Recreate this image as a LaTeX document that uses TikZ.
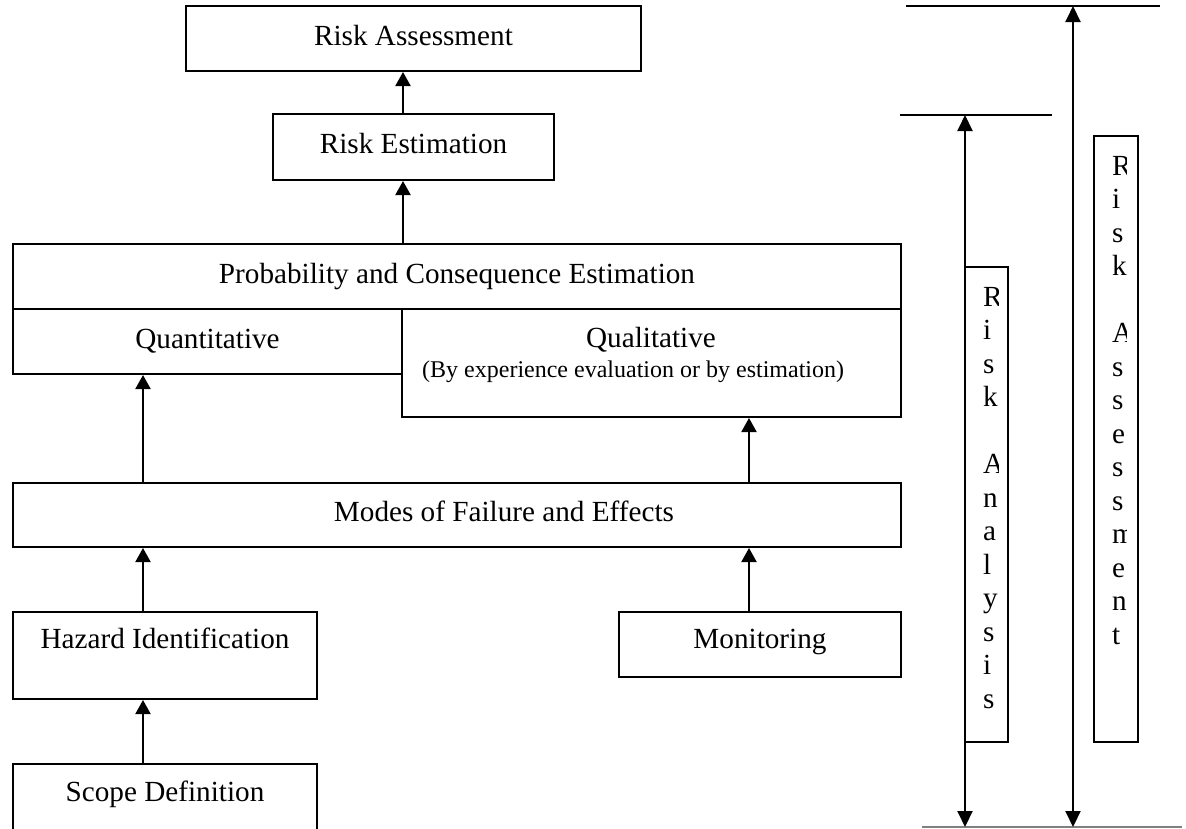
\documentclass[tikz,border=0pt]{standalone}
\usepackage{fontspec}
\setmainfont{Liberation Serif}
\usetikzlibrary{arrows.meta}

\tikzset{
  box/.style={draw, line width=2pt, inner sep=0pt, text height=20pt, text depth=7pt},
  arr/.style={-{Triangle[length=14pt,width=15pt]}, line width=2pt},
  dblarr/.style={{Triangle[length=16pt,width=15pt]}-{Triangle[length=16pt,width=15pt]}, line width=2pt},
  rule/.style={line width=2pt},
  vbox/.style={draw, fill=white, line width=2pt, inner sep=0pt},
  vtext/.style={anchor=north west, inner sep=0pt, align=left}
}

\begin{document}
\begin{tikzpicture}[x=1pt, y=-1pt, font=\fontsize{29.2}{33.5}\selectfont]
  \useasboundingbox (0,0) rectangle (1186,828);

  % Boxes.
  \node[box, minimum width=455, minimum height=65] (assess) at (413.5,38.5) {Risk Assessment};
  \node[box, minimum width=281, minimum height=66] (estim) at (413.5,147) {Risk Estimation};
  \node[box, minimum width=888, minimum height=65] (prob) at (457,276.5) {Probability and Consequence Estimation};
  \node[box, minimum width=389, minimum height=65] (quant) at (207.5,341.5) {Quantitative};
  \node[box, minimum width=499, minimum height=108] (qual) at (651.5,363) {};
  \node[anchor=base, inner sep=0pt] (qualtitle) at (651,347) {Qualitative};
  \node[anchor=base west, inner sep=0pt, font=\fontsize{24}{28}\selectfont] (qualnote) at (422,377)
    {(By experience evaluation or by estimation)};
  \node[box, minimum width=888, minimum height=64] (modes) at (457,515) {\hspace*{94pt}Modes of Failure and Effects};
  \node[box, minimum width=304, minimum height=87, text depth=35pt] (hazard) at (165,655.5) {Hazard Identification};
  \node[box, minimum width=282, minimum height=65, text depth=13pt] (monitor) at (760,644.5) {Monitoring};
  \node[box, minimum width=304, minimum height=68, text depth=14pt] (scope) at (165,798) {Scope Definition};

  % Arrows.
  \coordinate (colL) at (143,0);
  \coordinate (colM) at (403,0);
  \coordinate (colR) at (749,0);
  \draw[arr] (scope.north -| colL) -- (hazard.south -| colL);
  \draw[arr] (hazard.north -| colL) -- (modes.south -| colL);
  \draw[arr] (monitor.north -| colR) -- (modes.south -| colR);
  \draw[arr] (modes.north -| colL) -- (quant.south -| colL);
  \draw[arr] (modes.north -| colR) -- (qual.south -| colR);
  \draw[arr] (prob.north -| colM) -- (estim.south -| colM);
  \draw[arr] (estim.north -| colM) -- (assess.south -| colM);

  % Right side.
  \coordinate (asstop) at (1073,6);
  \coordinate (assbot) at (1073,827);
  \coordinate (anatop) at (965,115);
  \coordinate (anabot) at (965,827);
  \draw[rule] (asstop) ++(-167,0) -- ++(254,0);
  \draw[rule] (anatop) ++(-65,0) -- ++(152,0);
  \draw[rule, gray, line width=1.5pt] (anabot) ++(-43,0) -- ++(260,0);
  \draw[dblarr] (anatop) -- (anabot);
  \draw[dblarr] (asstop) -- (assbot);

  \node[vbox, minimum width=43, minimum height=475] (anabox) at (986.5,504.5) {};
  \node[vbox, minimum width=44, minimum height=606] (assbox) at (1116,439) {};
  \begin{scope}
    \clip (anabox.north west) rectangle ([xshift=-11pt]anabox.south east);
    \node[vtext] (anatext) at ([xshift=19pt, yshift=-21pt]anabox.north west)
      {R\\i\\s\\k\\\mbox{}\\A\\n\\a\\l\\y\\s\\i\\s};
  \end{scope}
  \begin{scope}
    \clip (assbox.north west) rectangle ([xshift=-13pt]assbox.south east);
    \node[vtext] (asstext) at ([xshift=19pt, yshift=-21pt]assbox.north west)
      {R\\i\\s\\k\\\mbox{}\\A\\s\\s\\e\\s\\s\\m\\e\\n\\t};
  \end{scope}
\end{tikzpicture}
\end{document}
